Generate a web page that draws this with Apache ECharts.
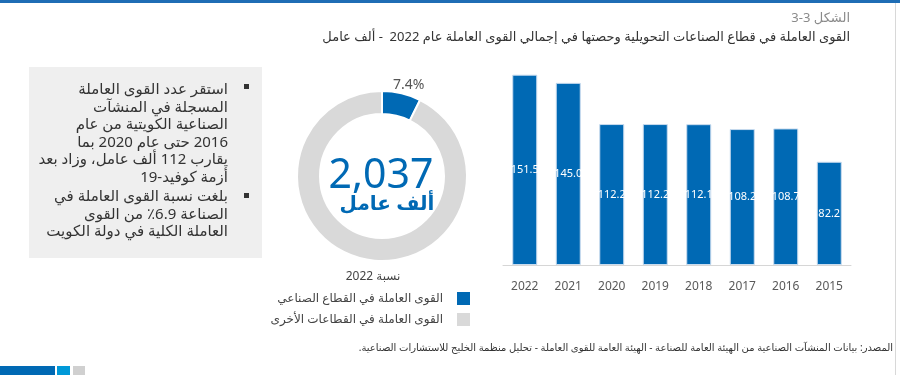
<!DOCTYPE html>
<html>
<head>
<meta charset="utf-8">
<script src="https://cdn.jsdelivr.net/npm/echarts@6/dist/echarts.min.js"></script>
<style>
  html, body { margin: 0; padding: 0; background: #fff; }
  #chart { width: 900px; height: 375px; }
</style>
</head>
<body>
<div id="chart" dir="rtl"></div>
<script>
// data
var years = ['2022', '2021', '2020', '2019', '2018', '2017', '2016', '2015'];
var workers = [151.5, 145.0, 112.2, 112.2, 112.1, 108.2, 108.7, 82.2];
var shareNames = ['القوى العاملة في القطاع الصناعي', 'القوى العاملة في القطاعات الأخرى'];
var shareValues = [7.4, 92.6];
var totalLabel = '2,037';
var totalUnit = 'ألف عامل';
var bullet1 = [
  'استقر عدد القوى العاملة',
  'المسجلة في المنشآت',
  'الصناعية الكويتية من عام',
  '2016 حتى عام 2020 بما',
  'يقارب 112 ألف عامل، وزاد بعد',
  'أزمة كوفيد-19'
];
var bullet2 = [
  'بلغت نسبة القوى العاملة في',
  'الصناعة 6.9٪ من القوى',
  'العاملة الكلية في دولة الكويت'
];

var blue = '#0069b4';
var grey = '#d9d9d9';
var font = '"Noto Sans", "DejaVu Sans", sans-serif';

var chart = echarts.init(document.getElementById('chart'));

chart.setOption({
  animation: false,
  textStyle: { fontFamily: font },
  grid: { left: 503, right: 49, top: 64, bottom: 110 },
  xAxis: {
    type: 'category',
    data: years,
    axisTick: { show: false },
    axisLine: { lineStyle: { color: '#d6d6d6', width: 1 } },
    axisLabel: { color: '#595959', fontSize: 12, margin: 16 }
  },
  yAxis: {
    type: 'value',
    min: 0,
    max: 160,
    show: false
  },
  legend: {
    orient: 'vertical',
    right: 428,
    top: 290,
    padding: 0,
    align: 'right',
    itemWidth: 15,
    itemHeight: 15,
    itemGap: 4,
    icon: 'rect',
    data: shareNames,
    textStyle: { color: '#444', fontSize: 12, lineHeight: 15, padding: [0, 8, 0, 0] }
  },
  series: [
    {
      type: 'bar',
      data: workers,
      barWidth: 25,
      itemStyle: { color: blue, borderColor: '#c9dcef', borderWidth: 1 },
      label: {
        show: true,
        position: 'inside',
        color: '#fff',
        fontSize: 11,
        formatter: function (p) { return p.value.toFixed(1); }
      }
    },
    {
      type: 'pie',
      center: [382, 176],
      radius: [62, 85],
      startAngle: 90,
      clockwise: true,
      itemStyle: { borderColor: '#fff', borderWidth: 2 },
      labelLine: { show: false, length: 6, length2: 0 },
      data: [
        {
          name: shareNames[0], value: shareValues[0],
          itemStyle: { color: blue },
          label: {
            show: true, position: 'outside', color: '#555', fontSize: 14,
            offset: [-15, -2],
            formatter: function (p) { return p.value.toFixed(1) + '%'; }
          }
        },
        {
          name: shareNames[1], value: shareValues[1],
          itemStyle: { color: grey },
          label: { show: false }
        }
      ]
    }
  ],
  graphic: [
    { type: 'rect', left: 0, top: 0, shape: { width: 900, height: 3 }, style: { fill: '#1f6db5' } },
    { type: 'rect', left: 895, top: 3, shape: { width: 1, height: 372 }, style: { fill: '#d8d8d8' } },
    {
      type: 'text', x: 850, y: 18,
      style: { text: 'الشكل 3-3', align: 'right', verticalAlign: 'middle', fill: '#8a8a8a', fontSize: 13, fontFamily: font }
    },
    {
      type: 'text', x: 850, y: 37,
      style: {
        text: 'القوى العاملة في قطاع الصناعات التحويلية وحصتها في إجمالي القوى العاملة عام 2022  - ألف عامل',
        align: 'right', verticalAlign: 'middle', fill: '#333', fontSize: 13, fontFamily: font
      }
    },
    { type: 'rect', left: 29, top: 67, shape: { width: 233, height: 191 }, style: { fill: '#efefef' } },
    { type: 'rect', left: 244, top: 84, shape: { width: 5, height: 5 }, style: { fill: '#333' } },
    { type: 'rect', left: 244, top: 193, shape: { width: 5, height: 5 }, style: { fill: '#333' } },
    {
      type: 'text', x: 228, y: 81,
      style: { text: bullet1.join('\n'), align: 'right', verticalAlign: 'top', lineHeight: 17.6, fill: '#333', fontSize: 15, fontFamily: font }
    },
    {
      type: 'text', x: 228, y: 188,
      style: { text: bullet2.join('\n'), align: 'right', verticalAlign: 'top', lineHeight: 17.6, fill: '#333', fontSize: 15, fontFamily: font }
    },
    {
      type: 'text', x: 381, y: 176,
      style: { text: totalLabel, align: 'center', verticalAlign: 'middle', fill: blue, fontSize: 41, fontFamily: font }
    },
    {
      type: 'text', x: 387, y: 204,
      style: { text: totalUnit, align: 'center', verticalAlign: 'middle', fill: blue, fontSize: 20, fontWeight: 600, fontFamily: font }
    },
    {
      type: 'text', x: 373, y: 277,
      style: { text: 'نسبة 2022', align: 'center', verticalAlign: 'middle', fill: '#444', fontSize: 12, fontFamily: font }
    },
    {
      type: 'text', x: 893, y: 348,
      style: {
        text: 'المصدر: بيانات المنشآت الصناعية من الهيئة العامة للصناعة - الهيئة العامة للقوى العاملة - تحليل منظمة الخليج للاستشارات الصناعية.',
        align: 'right', verticalAlign: 'middle', fill: '#333', fontSize: 10, fontFamily: font
      }
    },
    { type: 'rect', left: 0, top: 366, shape: { width: 55, height: 9 }, style: { fill: '#0069b4' } },
    { type: 'rect', left: 57, top: 366, shape: { width: 13, height: 9 }, style: { fill: '#0099d8' } },
    { type: 'rect', left: 73, top: 366, shape: { width: 12, height: 9 }, style: { fill: '#d0d0d0' } }
  ]
});
</script>
</body>
</html>
